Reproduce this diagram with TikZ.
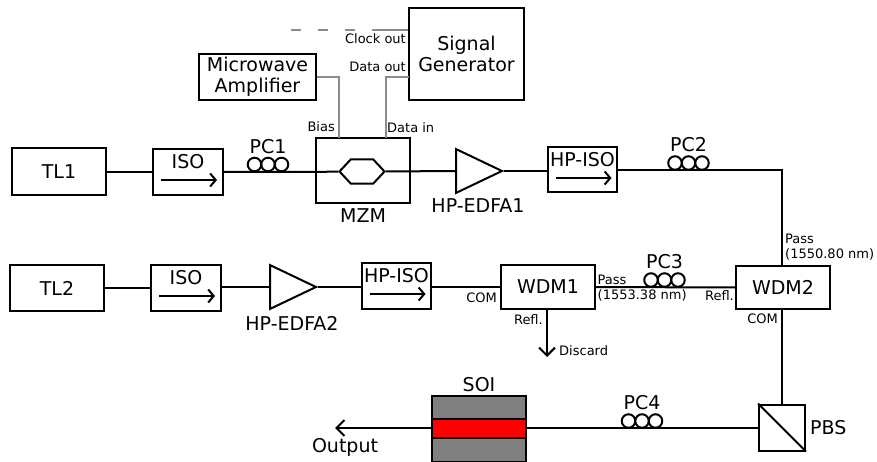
\documentclass[tikz,border=0pt]{standalone}
\usepackage{fontspec}
\setmainfont{DejaVu Sans}
\usetikzlibrary{shapes.geometric,arrows.meta,positioning}
\definecolor{rfgrey}{gray}{0.55}
\definecolor{chipgrey}{gray}{0.5}
\tikzset{box/.style={rectangle,draw,line width=2pt,inner sep=0pt},
         big text/.style={rectangle,inner sep=0pt,font=\fontsize{19}{21}\selectfont,align=center},
         small text/.style={rectangle,inner sep=0pt,font=\fontsize{13}{15}\selectfont,align=left},
         amp/.style={isosceles triangle,isosceles triangle apex angle=51,draw,line width=2pt,
                     inner sep=0pt,minimum height=46pt,anchor=lower side},
         coil/.style={circle,draw,line width=2pt,minimum size=13.5pt,inner sep=0pt},
         fibre/.style={line width=2pt},
         rf/.style={line width=2pt,draw=rfgrey},
         barb/.style={line width=2pt,-{Straight Barb[length=8pt,width=16pt]}}
}

\begin{document}
\begin{tikzpicture}[x=1pt,y=-1pt]
\useasboundingbox (0,0) rectangle (877,462);
% top branch
\node [box,minimum width=94pt,minimum height=47pt] (tl1) at (59,172) {};
\node [big text] at (tl1) {TL1};
\node [box,minimum width=70pt,minimum height=46pt] (iso1) at (188,172) {};
\node [box,minimum width=94pt,minimum height=65pt] (mzm) at (363,171) {};
\node [big text,below=4pt of mzm] (mzmtext) {MZM};
\node [amp] (edfa1) at (455,171) {};
\node [big text] (edfa1text) at (478,206) {HP-EDFA1};
\node [box,minimum width=69pt,minimum height=45pt] (hpiso1) at (582.5,170) {};
% bottom branch
\node [box,minimum width=94pt,minimum height=46pt] (tl2) at (57,288) {};
\node [big text] at (tl2) {TL2};
\node [box,minimum width=70pt,minimum height=46pt] (iso2) at (186,288) {};
\node [amp] (edfa2) at (269,287) {};
\node [big text] (edfa2text) at (292,323) {HP-EDFA2};
\node [box,minimum width=69pt,minimum height=46pt] (hpiso2) at (396.5,286) {};
\node [box,minimum width=94pt,minimum height=44pt] (wdm1) at (548,287) {};
\node [big text] at (wdm1) {WDM1};
\node [box,minimum width=94pt,minimum height=43pt] (wdm2) at (783,287.5) {};
\node [big text] at (wdm2) {WDM2};
% rf part
\node [box,minimum width=115pt,minimum height=92pt] (siggen) at (466.5,54) {};
\node [big text] at (siggen) {Signal\\Generator};
\node [box,minimum width=117pt,minimum height=46pt] (mwamp) at (257.5,77) {};
\node [big text] at (mwamp) {Microwave\\Amplifier};
\coordinate (clockend) at (291,30);
\coordinate (clockmid) at (372,30);
\coordinate (clockout) at (siggen.west |- clockend);
\coordinate (mwbend) at (339,77);
\coordinate (databend) at (386,77);
\coordinate (biasin) at (339,138);
\coordinate (datain) at (386,138);
\coordinate (dataout) at (409,77);
\draw [rf,dash pattern=on 9.5pt off 17.5pt] (clockend) -- (clockmid);
\draw [rf] (clockmid) -- (clockout);
\draw [rf] (mwamp.east |- mwbend) -- (mwbend) -- (biasin);
\draw [rf] (dataout) -- (databend) -- (datain);
% polarisation controllers
\foreach \name/\xa/\ya in {pc1/254.5/164.5,pc2/675/163,pc3/651/280,pc4/628.5/421}{
    \foreach \i/\dx in {a/0,b/13.5,c/27}{
        \node [coil] (\name\i) at (\xa+\dx,\ya) {};
    }
}
\node [big text,above=3pt of pc1b] {PC1};
\node [big text,above=3pt of pc2b] {PC2};
\node [big text,above=3pt of pc3b] {PC3};
\node [big text,above=3pt of pc4b] {PC4};
% isolators
\foreach \name/\tag in {iso1/ISO,iso2/ISO,hpiso1/HP-ISO,hpiso2/HP-ISO}{
    \node [big text] at ([yshift=10pt]\name.center) {\tag};
    \draw [barb,-{Straight Barb[length=5.5pt,width=13pt]}] ([xshift=-27pt,yshift=-8pt]\name.center) -- ([xshift=29pt,yshift=-8pt]\name.center);
}
% modulator
\node [draw,line width=2pt,regular polygon,regular polygon sides=6,minimum size=45pt,inner sep=0pt,yscale=0.62] (hexa) at (362,171.5) {};
% beam splitter and chip
\node [box,minimum size=46pt] (pbs) at (782,427.5) {};
\draw [fibre] (pbs.north west) -- (pbs.south east);
\node [big text,right=4pt of pbs] {PBS};
\node [box,fill=chipgrey,minimum width=94pt,minimum height=66pt] (soi) at (479,429) {};
\node [box,fill=red,minimum width=94pt,minimum height=19pt] (waveguide) at (479,428) {};
\node [big text,above=3pt of soi] {SOI};
\coordinate (outend) at (335,428);
\coordinate (discard) at (547,357);
\node [big text] (outtext) at (345,447) {Output};
% fibre links
\draw [fibre] (tl1) -- (iso1);
\draw [fibre] (iso1.east) -- (mzm.west |- iso1.east) -- (hexa.west);
\draw [fibre] (hexa.east) -- (edfa1.lower side);
\draw [fibre] (edfa1.apex) -- (hpiso1.west |- edfa1.apex);
\draw [fibre] (hpiso1.east) -| (pbs.north |- wdm2.north);
\draw [fibre] (tl2) -- (iso2);
\draw [fibre] (iso2.east |- edfa2.lower side) -- (edfa2.lower side);
\draw [fibre] (edfa2.apex) -- (hpiso2.west |- edfa2.apex);
\draw [fibre] (hpiso2.east |- wdm1.west) -- (wdm1.west);
\draw [fibre] (wdm1.east) -- (wdm2.west);
\draw [fibre] (pbs.north |- wdm2.south) -- (pbs.north);
\draw [fibre] (pbs.west) -- (waveguide.east |- pbs.west);
\draw [barb] (waveguide.west) -- (outend);
\draw [barb] (discard |- wdm1.south) -- (discard);
% port labels
\node [small text,anchor=east] at (406,39) {Clock out};
\node [small text,anchor=east] at (406,67) {Data out};
\node [small text,anchor=east] at (335,127) {Bias};
\node [small text,anchor=west] at (387,128) {Data in};
\node [small text,anchor=east] at (497,298) {COM};
\node [small text,anchor=west] at (597.5,288) {Pass\\(1553.38 nm)};
\node [small text,anchor=east] at (543,320) {Refl.};
\node [small text,anchor=west] at (559,351) {Discard};
\node [small text,anchor=east] at (734,296) {Refl.};
\node [small text,anchor=east] at (778,319) {COM};
\node [small text,anchor=west] at (785,247.5) {Pass\\(1550.80 nm)};
\end{tikzpicture}
\end{document}
